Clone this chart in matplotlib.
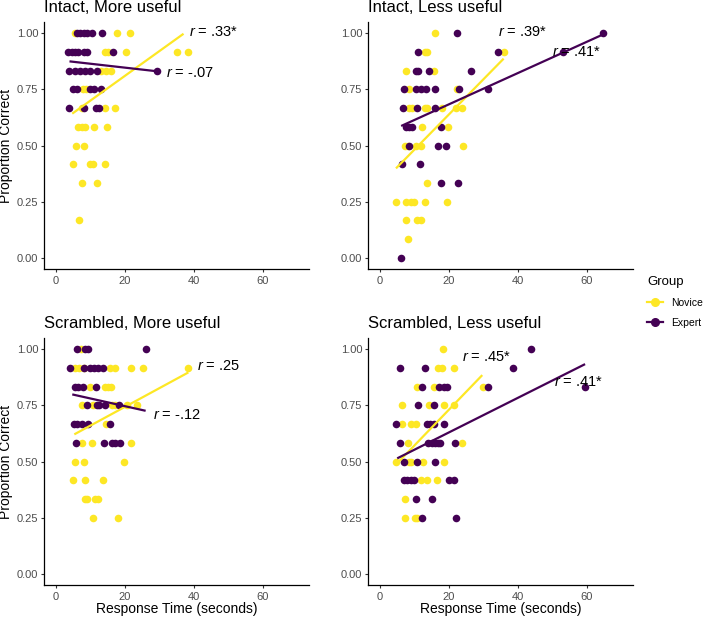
import matplotlib
matplotlib.use("Agg")
import matplotlib.pyplot as plt
from matplotlib.lines import Line2D

plt.rcParams['font.family'] = ['Liberation Sans', 'DejaVu Sans']
plt.rcParams['mathtext.fontset'] = 'custom'
plt.rcParams['mathtext.rm'] = 'Liberation Sans'
plt.rcParams['mathtext.it'] = 'Liberation Sans:italic'

NOVICE_COLOR = '#FDE725'
EXPERT_COLOR = '#440154'

titles = ["Intact, More useful", "Intact, Less useful",
          "Scrambled, More useful", "Scrambled, Less useful"]

# ---- Intact, More useful ----
tl_nov_x = [5.6, 17.7, 21.4, 14.3, 15.2, 20.2, 35.0, 38.3, 13.0, 14.6, 16.0, 7.8, 8.6,
            7.5, 14.3, 17.0, 6.5, 7.5, 8.4, 10.9, 14.8, 5.7, 8.0, 4.8, 9.9, 10.6, 14.1,
            7.5, 11.8, 6.8]
tl_nov_y = [1.0, 1.0, 1.0, .917, .917, .917, .917, .917, .833, .833, .833, .75, .75,
            .667, .667, .667, .583, .583, .583, .583, .583, .5, .5, .417, .417, .417, .417,
            .333, .333, .167]
tl_exp_x = [6.2, 7.0, 8.0, 9.0, 10.4, 13.3, 3.6, 4.6, 5.5, 6.5, 8.0, 8.9, 16.4,
            3.9, 5.5, 7.0, 8.4, 9.9, 11.8, 29.2, 5.0, 6.0, 9.9, 10.9, 13.0,
            3.9, 8.2, 11.7, 12.6]
tl_exp_y = [1.0, 1.0, 1.0, 1.0, 1.0, 1.0, .917, .917, .917, .917, .917, .917, .917,
            .833, .833, .833, .833, .833, .833, .833, .75, .75, .75, .75, .75,
            .667, .667, .667, .667]

# ---- Intact, Less useful ----
tr_nov_x = [15.9, 13.0, 13.8, 36.0, 7.5, 15.7, 8.5, 22.3, 8.5, 9.4, 13.0, 13.8, 18.0,
            22.0, 23.9, 12.1, 19.8, 7.2, 8.2, 10.4, 11.9, 24.1, 13.8, 4.6, 7.5, 9.0,
            9.9, 13.0, 19.4, 7.5, 10.9, 11.9, 8.3]
tr_nov_y = [1.0, .917, .917, .917, .833, .833, .75, .75, .667, .667, .667, .667, .667,
            .667, .667, .583, .583, .5, .5, .5, .5, .5, .333, .25, .25, .25,
            .25, .25, .25, .167, .167, .167, .083]
tr_exp_x = [22.5, 64.7, 11.1, 34.3, 53.2, 10.4, 11.1, 14.3, 26.3, 7.0, 10.4, 11.9, 13.3,
            16.0, 23.1, 31.3, 6.6, 10.7, 16.0, 7.5, 8.5, 9.4, 17.8, 8.6, 16.9, 19.1,
            6.4, 11.6, 17.6, 22.7, 6.1]
tr_exp_y = [1.0, 1.0, .917, .917, .917, .833, .833, .833, .833, .75, .75, .75, .75,
            .75, .75, .75, .667, .667, .667, .583, .583, .583, .583, .5, .5, .5,
            .417, .417, .333, .333, 0.0]

# ---- Scrambled, More useful ----
bl_nov_x = [7.3, 5.5, 6.8, 8.0, 15.7, 17.2, 21.8, 25.2, 38.4, 9.9, 14.1, 15.0, 16.0,
            7.5, 10.7, 16.2, 17.2, 20.6, 23.5, 14.6, 7.5, 10.4, 21.8, 5.5, 8.0, 19.6,
            4.9, 8.3, 13.6, 8.3, 9.0, 11.4, 12.2, 10.8, 18.0]
bl_nov_y = [1.0, .917, .917, .917, .917, .917, .917, .917, .917, .833, .833, .833, .833,
            .75, .75, .75, .75, .75, .75, .667, .583, .583, .583, .5, .5, .5,
            .417, .417, .417, .333, .333, .333, .333, .25, .25]
bl_exp_x = [6.0, 8.5, 9.4, 26.2, 4.1, 8.0, 9.9, 10.9, 12.1, 13.6, 5.5, 6.5, 7.8, 11.6,
            8.9, 11.9, 12.6, 14.3, 18.2, 5.2, 6.2, 7.5, 9.4, 15.7, 5.8, 13.8, 16.2,
            17.2, 18.7]
bl_exp_y = [1.0, 1.0, 1.0, 1.0, .917, .917, .917, .917, .917, .917, .833, .833, .833, .833,
            .75, .75, .75, .75, .75, .667, .667, .667, .667, .667, .583, .583, .583,
            .583, .583]

# ---- Scrambled, Less useful ----
br_nov_x = [18.2, 16.9, 17.9, 21.4, 10.7, 15.8, 29.8, 6.4, 14.3, 18.7, 21.4, 6.4, 9.0,
            10.4, 8.3, 23.7, 4.6, 8.5, 9.0, 12.4, 18.5, 11.9, 13.6, 16.7, 7.3, 7.3,
            10.2, 10.9]
br_nov_y = [1.0, .917, .917, .917, .833, .833, .833, .75, .75, .75, .75, .667, .667,
            .667, .583, .583, .5, .5, .5, .5, .5, .417, .417, .417, .333, .25,
            .25, .25]
br_exp_x = [43.7, 5.9, 13.1, 38.5, 12.1, 17.2, 18.5, 19.4, 31.4, 59.5, 11.2, 15.8,
            4.6, 13.6, 14.6, 15.6, 18.7, 5.9, 14.0, 15.0, 16.0, 16.9, 17.5, 21.8,
            6.9, 10.7, 16.1, 7.1, 8.0, 9.0, 10.0, 20.1, 21.4, 10.6, 15.0, 12.2, 22.0]
br_exp_y = [1.0, .917, .917, .917, .833, .833, .833, .833, .833, .833, .75, .75,
            .667, .667, .667, .667, .667, .583, .583, .583, .583, .583, .583, .583,
            .5, .5, .5, .417, .417, .417, .417, .417, .417, .333, .333, .25, .25]

# Fitted lines (endpoints): [x0, x1], [y0, y1]
tl_nov_fit = ([4.7, 37.0], [0.642, 0.998])
tl_exp_fit = ([3.9, 29.2], [0.875, 0.831])
tr_nov_fit = ([4.7, 35.9], [0.398, 0.887])
tr_exp_fit = ([6.2, 64.7], [0.587, 0.995])
bl_nov_fit = ([5.3, 38.4], [0.621, 0.897])
bl_exp_fit = ([4.7, 26.0], [0.799, 0.726])
br_nov_fit = ([5.05, 29.7], [0.492, 0.885])
br_exp_fit = ([5.05, 59.5], [0.514, 0.934])

# Correlation labels: text, x, y
tl_labels = [(".33*", 38.7, 1.004), ("-.07", 31.8, 0.822)]
tr_labels = [(".39*", 34.2, 1.005), (".41*", 50.0, 0.917)]
bl_labels = [(".25", 41.0, 0.926), ("-.12", 28.0, 0.707)]
br_labels = [(".45*", 23.7, 0.967), (".41*", 50.4, 0.854)]

x_ticks = [0, 20, 40, 60]
y_ticks = [0.0, 0.25, 0.5, 0.75, 1.0]
y_ticklabels = ["0.00", "0.25", "0.50", "0.75", "1.00"]

panels = [
    (tl_nov_x, tl_nov_y, tl_exp_x, tl_exp_y, tl_nov_fit, tl_exp_fit, tl_labels),
    (tr_nov_x, tr_nov_y, tr_exp_x, tr_exp_y, tr_nov_fit, tr_exp_fit, tr_labels),
    (bl_nov_x, bl_nov_y, bl_exp_x, bl_exp_y, bl_nov_fit, bl_exp_fit, bl_labels),
    (br_nov_x, br_nov_y, br_exp_x, br_exp_y, br_nov_fit, br_exp_fit, br_labels),
]

W, H = 708, 618
fig = plt.figure(figsize=(W / 100, H / 100), dpi=100)

def px_rect(l, t, r, b):
    return [l / W, 1 - b / H, (r - l) / W, (b - t) / H]

rects = [px_rect(44, 22.1, 309.3, 268.9), px_rect(367.7, 22.1, 633.4, 268.9),
         px_rect(44, 338.1, 309.3, 584.9), px_rect(367.7, 338.1, 633.4, 584.9)]

for i, (nx, ny, ex, ey, nfit, efit, labels) in enumerate(panels):
    ax = fig.add_axes(rects[i])
    ax.scatter(nx, ny, s=30, color=NOVICE_COLOR, linewidths=0, zorder=2)
    ax.scatter(ex, ey, s=30, color=EXPERT_COLOR, linewidths=0, zorder=2)
    ax.plot(nfit[0], nfit[1], color=NOVICE_COLOR, lw=1.6, zorder=3,
            solid_capstyle='butt')
    ax.plot(efit[0], efit[1], color=EXPERT_COLOR, lw=1.6, zorder=3,
            solid_capstyle='butt')
    for txt, tx, ty in labels:
        ax.text(tx, ty, "$r$ = " + txt, fontsize=10.5, ha='left', va='center',
                color='black', zorder=4)
    ax.set_xlim(-3.5, 73.5)
    ax.set_ylim(-0.05, 1.05)
    ax.set_xticks(x_ticks)
    ax.set_xticklabels([str(t) for t in x_ticks])
    ax.set_yticks(y_ticks)
    ax.set_yticklabels(y_ticklabels)
    for s in ['top', 'right']:
        ax.spines[s].set_visible(False)
    for s in ['left', 'bottom']:
        ax.spines[s].set_linewidth(0.9)
        ax.spines[s].set_color('black')
    ax.tick_params(axis='both', length=2.5, width=0.8, color='#333333',
                   labelcolor='#4D4D4D', labelsize=8)
    ax.tick_params(axis='y', pad=1.5)
    ax.tick_params(axis='x', pad=2.5)
    ax.set_title(titles[i], loc='left', fontsize=12, pad=7)

fig.text(6.2 / W, 1 - 145.5 / H, "Proportion Correct", rotation=90,
         ha='center', va='center', fontsize=10)
fig.text(6.2 / W, 1 - 461.5 / H, "Proportion Correct", rotation=90,
         ha='center', va='center', fontsize=10)
fig.text(176.6 / W, 1 - 609.5 / H, "Response Time (seconds)",
         ha='center', va='center', fontsize=10)
fig.text(500.5 / W, 1 - 609.5 / H, "Response Time (seconds)",
         ha='center', va='center', fontsize=10)

handles = [Line2D([], [], color=NOVICE_COLOR, marker='o', markersize=5.5, lw=1.6),
           Line2D([], [], color=EXPERT_COLOR, marker='o', markersize=5.5, lw=1.6)]
leg = fig.legend(handles, ["Novice", "Expert"], title="Group",
                 loc='upper left', bbox_to_anchor=(647 / W, 1 - 276 / H),
                 frameon=False, fontsize=7.5, title_fontsize=9.5,
                 borderpad=0, borderaxespad=0,
                 handlelength=1.5, handletextpad=0.8, labelspacing=0.95,
                 alignment='left')

fig.savefig("out.png", dpi=100)
